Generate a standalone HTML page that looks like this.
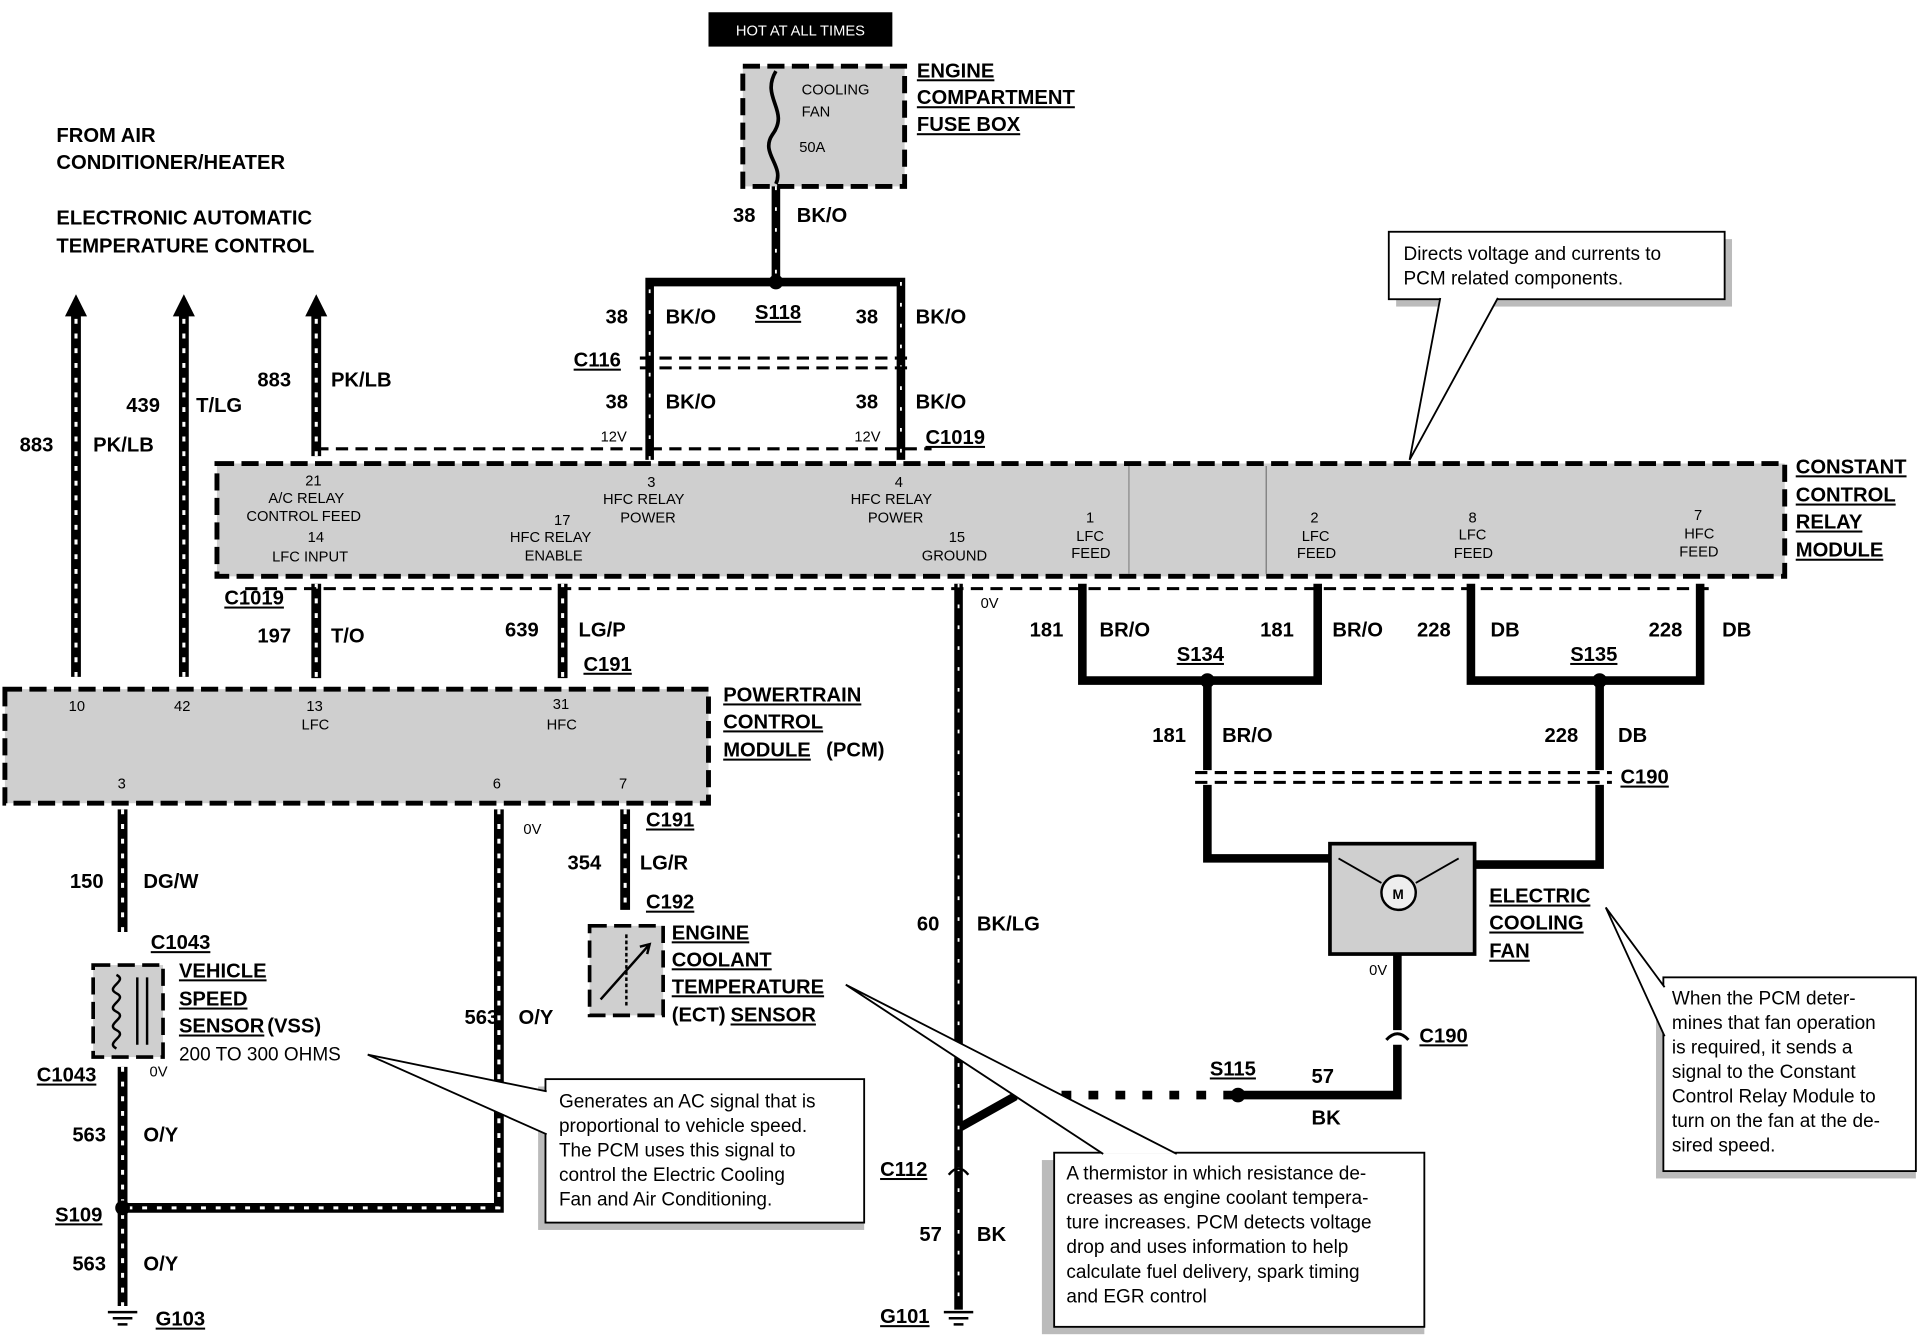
<!DOCTYPE html>
<html><head><meta charset="utf-8"><style>
html,body{margin:0;padding:0;background:#fff;}
svg{display:block;}
text{font-family:"Liberation Sans",sans-serif;font-weight:bold;fill:#000;}
.l{font-size:16.5px;}
.s{font-size:12px;font-weight:normal;}
g.s text{font-weight:normal;}
.u{text-decoration:underline;}
.c{font-size:15.5px;font-weight:normal;}
g.c text{font-weight:normal;font-size:15.5px;}
.w1{stroke:#000;stroke-width:8;fill:none;}
.w2{stroke:#fff;stroke-width:2.5;fill:none;stroke-dasharray:4 8;}
.t1{stroke:#000;stroke-width:7;fill:none;}
.t2{stroke:#fff;stroke-width:1.5;fill:none;stroke-dasharray:3 14;}
.box{fill:#cfcfcf;stroke:#000;stroke-width:4;stroke-dasharray:14 6;}
.cd{stroke:#000;stroke-width:2.5;stroke-dasharray:10 6;fill:none;}
</style></head><body>
<svg width="1922" height="1344" viewBox="0 0 1568 1096" preserveAspectRatio="none" xmlns="http://www.w3.org/2000/svg">
<rect width="1568" height="1096" fill="#fff"/>
<!-- HOT -->
<rect x="578" y="10" width="150" height="28" fill="#000"/>
<text x="653" y="29" text-anchor="middle" style="font-size:12px;font-weight:normal;fill:#fff">HOT AT ALL TIMES</text>
<!-- fuse box -->
<rect class="box" x="606" y="54" width="132" height="98"/>
<path d="M633,58 C620,80 645,90 630,110 C620,125 640,135 633,150" stroke="#000" stroke-width="3" fill="none"/>
<text class="s" x="654" y="77">COOLING</text><text class="s" x="654" y="95">FAN</text><text class="s" x="652" y="124">50A</text>
<text class="l u" x="748" y="63">ENGINE</text><text class="l u" x="748" y="85">COMPARTMENT</text><text class="l u" x="748" y="107">FUSE BOX</text>
<g>
<path class="t1" d="M633,152 V230 M530,375 V230 H735 V375"/>
<path class="t2" d="M633,152 V230 M530,375 V230 M735,230 V375"/>
<circle cx="633" cy="230" r="6" fill="#000"/>
<text class="l" x="598" y="181">38</text><text class="l" x="650" y="181">BK/O</text>
<text class="l u" x="616" y="260">S118</text>
<text class="l" x="494" y="264">38</text><text class="l" x="543" y="264">BK/O</text>
<text class="l" x="698" y="264">38</text><text class="l" x="747" y="264">BK/O</text>
<path class="cd" d="M522,292 H745 M522,300 H745"/>
<text class="l u" x="468" y="299">C116</text>
<text class="l" x="494" y="333">38</text><text class="l" x="543" y="333">BK/O</text>
<text class="l" x="698" y="333">38</text><text class="l" x="747" y="333">BK/O</text>
<text class="s" x="490" y="360">12V</text><text class="s" x="697" y="360">12V</text>
<text class="l u" x="755" y="362">C1019</text>
<path class="cd" d="M258,366 H760"/>
</g>
<!-- CCRM -->
<rect class="box" x="177" y="378" width="1279" height="92" fill="#cdcdcd"/>
<line x1="1033" y1="380" x2="1033" y2="468" stroke="#777" stroke-width="1"/>
<line x1="921" y1="380" x2="921" y2="468" stroke="#888" stroke-width="1"/>
<g class="s">
<text x="249" y="396">21</text><text x="219" y="410">A/C RELAY</text><text x="201" y="425">CONTROL FEED</text>
<text x="251" y="442">14</text><text x="222" y="458">LFC INPUT</text>
<text x="452" y="428">17</text><text x="416" y="442">HFC RELAY</text><text x="428" y="457">ENABLE</text>
<text x="528" y="397">3</text><text x="492" y="411">HFC RELAY</text><text x="506" y="426">POWER</text>
<text x="730" y="397">4</text><text x="694" y="411">HFC RELAY</text><text x="708" y="426">POWER</text>
<text x="774" y="442">15</text><text x="752" y="457">GROUND</text>
<text x="886" y="426">1</text><text x="878" y="441">LFC</text><text x="874" y="455">FEED</text>
<text x="1069" y="426">2</text><text x="1062" y="441">LFC</text><text x="1058" y="455">FEED</text>
<text x="1198" y="426">8</text><text x="1190" y="440">LFC</text><text x="1186" y="455">FEED</text>
<text x="1382" y="424">7</text><text x="1374" y="439">HFC</text><text x="1370" y="454">FEED</text>
</g>
<text class="l u" x="1465" y="386">CONSTANT</text><text class="l u" x="1465" y="409">CONTROL</text><text class="l u" x="1465" y="431">RELAY</text><text class="l u" x="1465" y="454">MODULE</text>
<!-- left arrows -->
<path class="w1" d="M62,552 V255 M150,552 V255 M258,372 V255"/>
<path class="w2" d="M62,552 V255 M150,552 V255 M258,372 V255"/>
<path d="M53,258 L62,240 L71,258 z M141,258 L150,240 L159,258 z M249,258 L258,240 L267,258 z" fill="#000"/>
<text class="l" x="46" y="116">FROM AIR</text><text class="l" x="46" y="138">CONDITIONER/HEATER</text>
<text class="l" x="46" y="183">ELECTRONIC AUTOMATIC</text><text class="l" x="46" y="206">TEMPERATURE CONTROL</text>
<text class="l" x="16" y="368">883</text><text class="l" x="76" y="368">PK/LB</text>
<text class="l" x="103" y="336">439</text><text class="l" x="160" y="336">T/LG</text>
<text class="l" x="210" y="315">883</text><text class="l" x="270" y="315">PK/LB</text>
<!-- CCRM -> PCM -->
<path class="w1" d="M258,476 V553 M459,476 V553"/>
<path class="w2" d="M258,476 V553 M459,476 V553"/>
<text class="l u" x="183" y="493">C1019</text>
<text class="l" x="210" y="524">197</text><text class="l" x="270" y="524">T/O</text>
<text class="l" x="412" y="519">639</text><text class="l" x="472" y="519">LG/P</text>
<text class="l u" x="476" y="547">C191</text>
<path class="cd" d="M200,480 H1400"/>
<!-- PCM -->
<rect class="box" x="4" y="562" width="574" height="93"/>
<g class="s"><text x="56" y="580">10</text><text x="142" y="580">42</text><text x="250" y="580">13</text><text x="246" y="595">LFC</text>
<text x="451" y="578">31</text><text x="446" y="595">HFC</text><text x="96" y="643">3</text><text x="402" y="643">6</text><text x="505" y="643">7</text></g>
<text class="l u" x="590" y="572">POWERTRAIN</text><text class="l u" x="590" y="594">CONTROL</text><text class="l u" x="590" y="617">MODULE</text><text class="l" x="674" y="617">(PCM)</text>
<!-- ground 782 -->
<path class="t1" d="M782,476 V1068 M782,920 L830,893 H1010 M1010,893 H1140 V852"/>
<path class="t2" d="M782,476 V1068"/>
<path d="M830,893 H1010" stroke="#fff" stroke-width="8" stroke-dasharray="14 8" fill="none"/>
<circle cx="1010" cy="893" r="6" fill="#000"/>
<text class="s" x="800" y="496">0V</text>
<text class="l" x="748" y="759">60</text><text class="l" x="797" y="759">BK/LG</text>
<path d="M774,958 Q782,948 790,958" stroke="#000" stroke-width="2" fill="none"/>
<text class="l u" x="718" y="959">C112</text>
<text class="l" x="750" y="1012">57</text><text class="l" x="797" y="1012">BK</text>
<text class="l u" x="718" y="1079">G101</text>
<path d="M770,1070 H794 M774,1075 H790 M778,1080 H786" stroke="#000" stroke-width="2"/>
<text class="l u" x="987" y="877">S115</text>
<text class="l" x="1070" y="883">57</text><text class="l" x="1070" y="917">BK</text>
<path d="M1131,848 Q1140,838 1149,848" stroke="#000" stroke-width="2.5" fill="none"/>
<text class="l u" x="1158" y="850">C190</text>
<!-- right wires -->
<path class="t1" d="M883,476 V555 H1075 V476 M985,555 V628 M985,640 V700 H1085 M1200,476 V555 H1387 V476 M1305,555 V628 M1305,640 V705 H1203"/>
<path class="cd" d="M975,630 H1315 M975,638 H1315"/>
<circle cx="985" cy="555" r="6" fill="#000"/><circle cx="1305" cy="555" r="6" fill="#000"/>
<text class="l" x="840" y="519">181</text><text class="l" x="897" y="519">BR/O</text>
<text class="l" x="1028" y="519">181</text><text class="l" x="1087" y="519">BR/O</text>
<text class="l" x="1156" y="519">228</text><text class="l" x="1216" y="519">DB</text>
<text class="l" x="1345" y="519">228</text><text class="l" x="1405" y="519">DB</text>
<text class="l u" x="960" y="539">S134</text><text class="l u" x="1281" y="539">S135</text>
<text class="l" x="940" y="605">181</text><text class="l" x="997" y="605">BR/O</text>
<text class="l" x="1260" y="605">228</text><text class="l" x="1320" y="605">DB</text>
<text class="l u" x="1322" y="639">C190</text>
<!-- fan -->
<rect x="1085" y="688" width="118" height="90" fill="#cfcfcf" stroke="#000" stroke-width="3"/>
<circle cx="1141" cy="728" r="14" fill="#eee" stroke="#000" stroke-width="2"/>
<text x="1136" y="733" style="font-size:11px">M</text>
<path d="M1092,700 L1127,720 M1190,700 L1155,720" stroke="#000" stroke-width="1.5"/>
<path class="t1" d="M1140,778 V840"/>
<text class="s" x="1117" y="795">0V</text>
<text class="l u" x="1215" y="736">ELECTRIC</text><text class="l u" x="1215" y="758">COOLING</text><text class="l u" x="1215" y="781">FAN</text>
<!-- PCM bottom wires -->
<path class="w1" d="M100,660 V760 M100,870 V1065 M407,660 V985 H100 M510,660 V742"/>
<path class="w2" d="M100,660 V760 M100,870 V1065 M407,660 V985 H100 M510,660 V742"/>
<circle cx="100" cy="985" r="6" fill="#000"/>
<text class="s" x="427" y="680">0V</text>
<text class="l u" x="527" y="674">C191</text>
<text class="l" x="463" y="709">354</text><text class="l" x="522" y="709">LG/R</text>
<text class="l u" x="527" y="741">C192</text>
<text class="l" x="57" y="724">150</text><text class="l" x="117" y="724">DG/W</text>
<text class="l u" x="123" y="774">C1043</text>
<rect class="box" x="76" y="787" width="57" height="75" style="stroke-width:3"/>
<path d="M95,795 c10,5 -10,10 0,15 c10,5 -10,10 0,15 c10,5 -10,10 0,15 c10,5 -10,10 0,15" stroke="#000" stroke-width="2" fill="none"/>
<path d="M112,797 V852 M120,797 V852" stroke="#000" stroke-width="2"/>
<text class="l u" x="146" y="797">VEHICLE</text><text class="l u" x="146" y="820">SPEED</text><text class="l u" x="146" y="842">SENSOR</text><text class="l" x="218" y="842">(VSS)</text>
<text class="c" x="146" y="865">200 TO 300 OHMS</text>
<text class="l u" x="30" y="882">C1043</text><text class="s" x="122" y="878">0V</text>
<text class="l" x="379" y="835">563</text><text class="l" x="423" y="835">O/Y</text>
<text class="l" x="59" y="931">563</text><text class="l" x="117" y="931">O/Y</text>
<text class="l u" x="45" y="996">S109</text>
<text class="l" x="59" y="1036">563</text><text class="l" x="117" y="1036">O/Y</text>
<path d="M88,1070 H112 M92,1075 H108 M96,1080 H104" stroke="#000" stroke-width="2"/>
<text class="l u" x="127" y="1081">G103</text>
<!-- ECT -->
<rect class="box" x="481" y="755" width="60" height="73" style="stroke-width:3"/>
<path d="M490,815 L530,770 M522,772 L530,770 L528,778" stroke="#000" stroke-width="2" fill="none"/>
<path d="M511,762 V822" stroke="#000" stroke-width="2" stroke-dasharray="3 2"/>
<text class="l u" x="548" y="766">ENGINE</text><text class="l u" x="548" y="788">COOLANT</text><text class="l u" x="548" y="810">TEMPERATURE</text>
<text class="l" x="548" y="833">(ECT)</text><text class="l u" x="596" y="833">SENSOR</text>
<!-- callouts -->
<g>
<rect x="1139" y="195" width="274" height="55" fill="#bbb"/>
<rect x="1133" y="189" width="274" height="55" fill="#fff" stroke="#000" stroke-width="1.5"/>
<path d="M1175,243 L1150,375 L1222,243" fill="#fff" stroke="#000" stroke-width="1.5"/>
<g class="c"><text x="1145" y="212">Directs voltage and currents to</text>
<text x="1145" y="232">PCM related components.</text></g>

<rect x="1351" y="803" width="212" height="158" fill="#bbb"/>
<rect x="1357" y="797" width="206" height="158" fill="#fff" stroke="#000" stroke-width="1.5"/>
<path d="M1358,805 L1310,740 L1358,845" fill="#fff" stroke="#000" stroke-width="1.5"/>
<g class="c"><text x="1364" y="819">When the PCM deter-</text><text x="1364" y="839">mines that fan operation</text><text x="1364" y="859">is required, it sends a</text><text x="1364" y="879">signal to the Constant</text><text x="1364" y="899">Control Relay Module to</text><text x="1364" y="919">turn on the fan at the de-</text><text x="1364" y="939">sired speed.</text></g>

<rect x="439" y="886" width="266" height="117" fill="#bbb"/>
<rect x="445" y="880" width="260" height="117" fill="#fff" stroke="#000" stroke-width="1.5"/>
<path d="M446,890 L300,860 L446,925" fill="#fff" stroke="#000" stroke-width="1.5"/>
<g class="c"><text x="456" y="903">Generates an AC signal that is</text><text x="456" y="923">proportional to vehicle speed.</text><text x="456" y="943">The PCM uses this signal to</text><text x="456" y="963">control the Electric Cooling</text><text x="456" y="983">Fan and Air Conditioning.</text></g>

<rect x="850" y="946" width="312" height="142" fill="#bbb"/>
<rect x="860" y="940" width="302" height="142" fill="#fff" stroke="#000" stroke-width="1.5"/>
<path d="M900,941 L690,803 L960,941" fill="#fff" stroke="#000" stroke-width="1.5"/>
<g class="c"><text x="870" y="962">A thermistor in which resistance de-</text><text x="870" y="982">creases as engine coolant tempera-</text><text x="870" y="1002">ture increases. PCM detects voltage</text><text x="870" y="1022">drop and uses information to help</text><text x="870" y="1042">calculate fuel delivery, spark timing</text><text x="870" y="1062">and EGR control</text></g>
</g>
</svg>
</body></html>
